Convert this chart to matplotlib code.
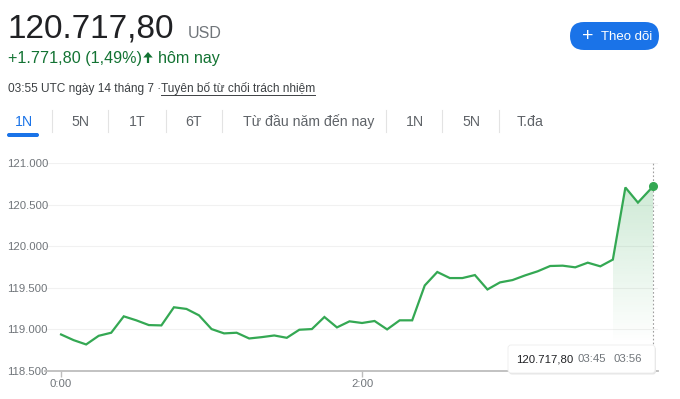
import matplotlib
matplotlib.use("Agg")
import matplotlib.pyplot as plt
import matplotlib.patches as patches
import numpy as np

plt.rcParams['font.family'] = ['Liberation Sans', 'DejaVu Sans']

# price every 5 minutes from 0:00, last quote at 3:56
minutes = [0, 5, 10, 15, 20, 25, 30, 35, 40, 45, 50, 55,
           60, 65, 70, 75, 80, 85, 90, 95, 100, 105, 110, 115,
           120, 125, 130, 135, 140, 145, 150, 155, 160, 165, 170, 175,
           180, 185, 190, 195, 200, 205, 210, 215, 220, 225, 230, 236]
prices = [118939, 118871, 118819, 118923, 118960, 119157, 119109, 119052,
          119048, 119266, 119246, 119169, 119004, 118952, 118960, 118891,
          118907, 118927, 118899, 118996, 119004, 119149, 119024, 119097,
          119077, 119101, 119000, 119109, 119109, 119528, 119690, 119617,
          119617, 119653, 119480, 119565, 119593, 119649, 119698, 119762,
          119766, 119746, 119802, 119758, 119839, 120706, 120524, 120718]
y_ticks = [118500, 119000, 119500, 120000, 120500, 121000]
y_labels = ['118.500', '119.000', '119.500', '120.000', '120.500', '121.000']
x_ticks = [0, 120]
x_labels = ['0:00', '2:00']
tabs = ['1N', '5N', '1T', '6T', 'Từ đầu năm đến nay', '1N', '5N', 'T.đa']
tab_x = [23.5, 80, 137.5, 194, 308.5, 415, 471.5, 530]
sep_x = [52, 108, 166, 222, 386, 442, 499]

W, H = 680, 399
green = '#34a853'
gray = '#70757a'

fig = plt.figure(figsize=(W / 100, H / 100), dpi=100)

# ---- chart ----
ax = fig.add_axes([45 / W, 1 - 371 / H, (658 - 45) / W, (371 - 163) / H])
for s in ['left', 'right', 'top']:
    ax.spines[s].set_visible(False)
ax.spines['bottom'].set_color('#bdbdbd')
ax.spines['bottom'].set_linewidth(1.3)
ax.set_yticks(y_ticks)
ax.set_yticklabels(y_labels, ha='left', color=gray, fontsize=8.2)
ax.tick_params(axis='y', length=0, pad=27.6)
ax.set_xticks(x_ticks)
ax.set_xticklabels(x_labels, color=gray, fontsize=8.2)
ax.tick_params(axis='x', length=4, width=1, color='#bdbdbd', pad=2)
ax.grid(axis='y', color='#f1f1f1', lw=0.8)
ax.set_axisbelow(True)

ax.plot(minutes, prices, color=green, lw=1.6, solid_joinstyle='miter', zorder=3)
ax.plot(minutes[-1], prices[-1], 'o', color=green, ms=5.5, zorder=4)
ax.axvline(minutes[-1], color='#9e9e9e', lw=0.8, ls=(0, (1.5, 2)), zorder=2)

# gradient fill under last part of the line
k = minutes.index(220)
xs = minutes[k:]
ys = prices[k:]
verts = list(zip(xs, ys)) + [(xs[-1], 118500), (xs[0], 118500)]
poly = patches.Polygon(verts, closed=True, facecolor='none', edgecolor='none')
ax.add_patch(poly)
grad = np.linspace(0, 1, 256).reshape(-1, 1)
rgba = np.zeros((256, 1, 4))
rgba[..., 0] = 0x34 / 255
rgba[..., 1] = 0xa8 / 255
rgba[..., 2] = 0x53 / 255
rgba[..., 3] = 0.24 * np.clip((grad - 0.15) / 0.85, 0, 1)
im = ax.imshow(rgba, extent=[xs[0], xs[-1], 118500, max(ys)], origin='lower',
               aspect='auto', zorder=1)
im.set_clip_path(poly)
ax.set_xlim(-6.4, 238)
ax.set_ylim(118500, 121000)

# ---- page elements in pixel coordinates ----
ui = fig.add_axes([0, 0, 1, 1], zorder=5)
ui.set_xlim(0, W)
ui.set_ylim(H, 0)
ui.axis('off')
ui.patch.set_visible(False)
renderer = fig.canvas.get_renderer()


def span(t):
    bb = t.get_window_extent(renderer).transformed(ui.transData.inverted())
    return bb.x0, bb.x1


ui.text(7, 38, '120.717,80', fontsize=24, color='#202124', va='baseline')
ui.text(188, 38, 'USD', fontsize=11.5, color=gray, va='baseline')
g1 = ui.text(8, 63, '+1.771,80 (1,49%)', fontsize=11.6, color='#137333', va='baseline')
x1 = span(g1)[1]
# up arrow drawn as a shape
arr = patches.FancyArrow(x1 + 6, 63, 0, -11, width=2.2, head_width=9.5, head_length=5.5,
                         length_includes_head=True, color='#137333', lw=0)
ui.add_patch(arr)
ui.text(x1 + 15.5, 63, 'hôm nay', fontsize=11.6, color='#137333', va='baseline')

d1 = ui.text(8, 92, '03:55 UTC ngày 14 tháng 7 \u00b7', fontsize=8.6, color='#3c4043', va='baseline')
xd = span(d1)[1]
t = ui.text(xd, 92, 'Tuyên bố từ chối trách nhiệm', fontsize=8.6, color='#3c4043', va='baseline')
u0, u1 = span(t)
ui.plot([u0, u1], [94.5, 94.5], color='#3c4043', lw=0.7)

# follow button
btn = patches.FancyBboxPatch((570, 22), 89, 28, boxstyle='round,pad=0,rounding_size=14',
                             facecolor='#1a73e8', edgecolor='none')
ui.add_patch(btn)
ui.text(588, 36.5, '+', fontsize=14, color='white', ha='center', va='center')
ui.text(601, 36.5, 'Theo dõi', fontsize=9.5, color='white', va='center')

# tabs
for i, (lbl, x) in enumerate(zip(tabs, tab_x)):
    c = '#1a73e8' if i == 0 else '#5f6368'
    ui.text(x, 122, lbl, fontsize=10.2, color=c, ha='center', va='center')
for x in sep_x:
    ui.plot([x, x], [110, 132], color='#e3e3e3', lw=0.8)
tab_line = patches.FancyBboxPatch((7, 133), 32, 4, boxstyle='round,pad=0,rounding_size=2',
                                  facecolor='#1a73e8', edgecolor='none')
ui.add_patch(tab_line)

# tooltip
shadow = patches.FancyBboxPatch((509, 346.5), 147, 28, boxstyle='round,pad=0,rounding_size=3',
                                facecolor='#e6e6e6', edgecolor='none')
ui.add_patch(shadow)
tip = patches.FancyBboxPatch((508, 345), 147, 28, boxstyle='round,pad=0,rounding_size=3',
                             facecolor='white', edgecolor='#ececec', lw=0.6)
ui.add_patch(tip)
ui.text(516, 359, '120.717,80', fontsize=8.2, color='#202124', va='center')
ui.text(577, 359, '03:45', fontsize=8.2, color=gray, va='center')
ui.text(614, 359, '03:56', fontsize=8.2, color=gray, va='center')

fig.savefig('out.png', dpi=100)
